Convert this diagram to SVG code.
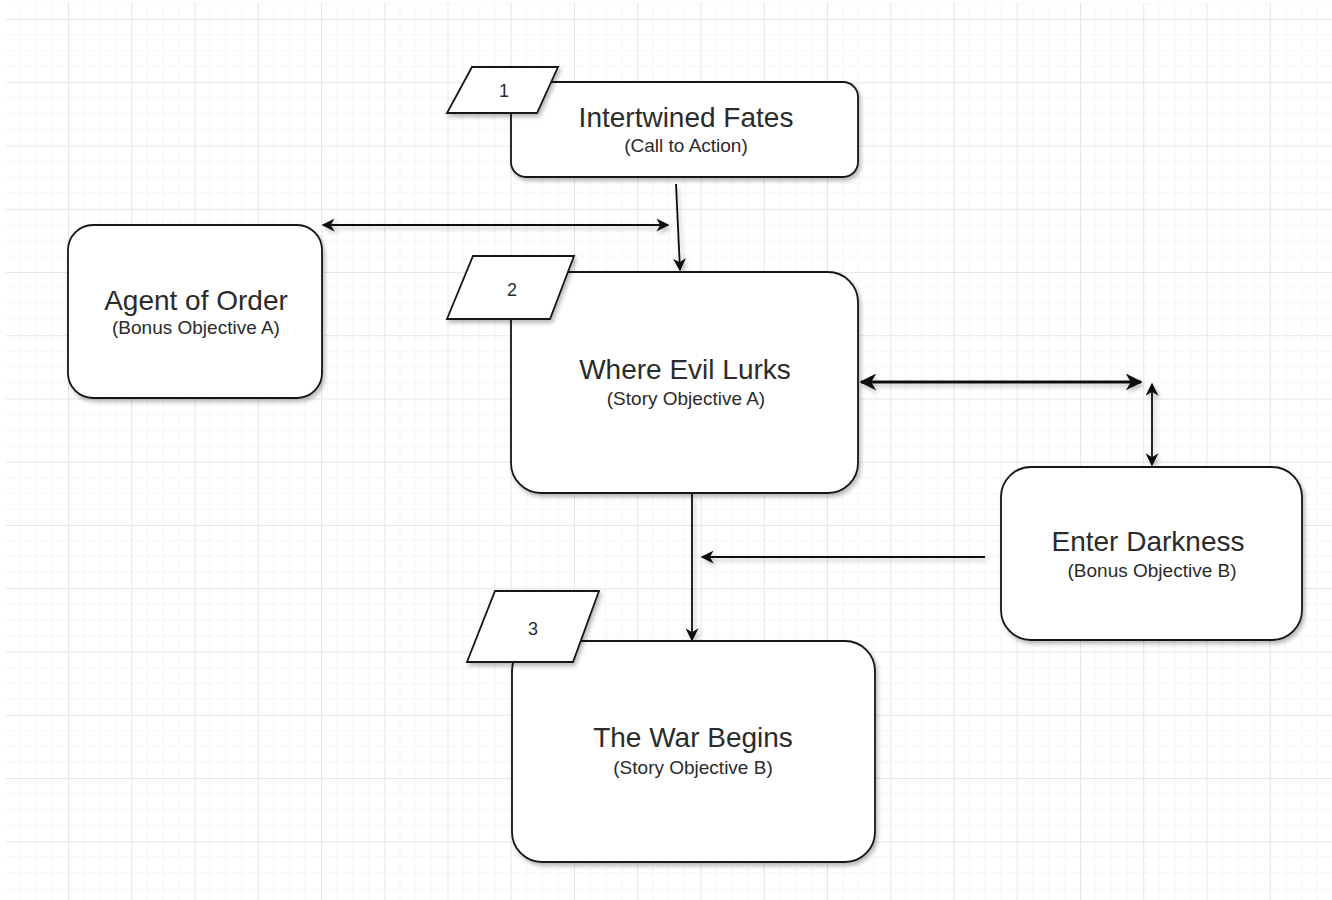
<svg xmlns="http://www.w3.org/2000/svg" width="1332" height="900" viewBox="0 0 1332 900">
  <defs>
    <pattern id="grid" patternUnits="userSpaceOnUse" x="68" y="19" width="63.25" height="63.25">
      <path d="M15.81 0V63.25M31.62 0V63.25M47.44 0V63.25M0 15.81H63.25M0 31.62H63.25M0 47.44H63.25" stroke="#f6f6f6" stroke-width="1" fill="none"/>
      <path d="M0.5 0V63.25M0 0.5H63.25" stroke="#e6e6e6" stroke-width="1" fill="none"/>
    </pattern>
    <filter id="shadow" x="-10%" y="-10%" width="125%" height="130%">
      <feDropShadow dx="2" dy="3" stdDeviation="2" flood-color="#000" flood-opacity="0.28"/>
    </filter>
    <filter id="lineShadow" filterUnits="userSpaceOnUse" x="0" y="0" width="1332" height="900">
      <feDropShadow dx="2" dy="3" stdDeviation="2" flood-color="#000" flood-opacity="0.25"/>
    </filter>
    <marker id="arrow" viewBox="0 0 10 10" refX="9" refY="5" markerWidth="13" markerHeight="13" markerUnits="userSpaceOnUse" orient="auto-start-reverse">
      <path d="M0,0 L10,5 L0,10 L3,5 Z" fill="#111"/>
    </marker>
    <marker id="arrowL" viewBox="0 0 10 10" refX="9" refY="5" markerWidth="17" markerHeight="17" markerUnits="userSpaceOnUse" orient="auto-start-reverse">
      <path d="M0,0 L10,5 L0,10 L3,5 Z" fill="#111"/>
    </marker>
  </defs>
  <style>
    .box { fill: #fff; stroke: #151515; stroke-width: 1.8; filter: url(#shadow); }
    .tag { fill: #fff; stroke: #151515; stroke-width: 1.8; filter: url(#shadow); }
    .title { font-family: "Liberation Sans", Arial, sans-serif; font-size: 28px; fill: #2b2b2b; text-anchor: middle; }
    .sub { font-family: "Liberation Sans", Arial, sans-serif; font-size: 19px; fill: #2b2b2b; text-anchor: middle; }
    .num { font-family: "Liberation Sans", Arial, sans-serif; font-size: 18px; fill: #2b2b2b; text-anchor: middle; }
    .conn { fill: none; stroke: #111; stroke-width: 1.8; }
    .thick { fill: none; stroke: #111; stroke-width: 3.2; }
  </style>

  <rect x="0" y="0" width="1332" height="900" fill="#fff"/>
  <rect x="6" y="3" width="1326" height="897" fill="url(#grid)"/>

  <g id="connectors" filter="url(#lineShadow)">
    <line class="conn" x1="676" y1="184" x2="680" y2="270" marker-end="url(#arrow)"/>
    <line class="conn" x1="323" y1="225" x2="668" y2="225" marker-start="url(#arrow)" marker-end="url(#arrow)"/>
    <line class="thick" x1="861" y1="382" x2="1141" y2="382" marker-start="url(#arrowL)" marker-end="url(#arrowL)"/>
    <line class="conn" x1="1152" y1="384" x2="1152" y2="465" marker-start="url(#arrow)" marker-end="url(#arrow)"/>
    <line class="conn" x1="985" y1="557" x2="702" y2="557" marker-end="url(#arrow)"/>
    <line class="conn" x1="692" y1="494" x2="692" y2="640" marker-end="url(#arrow)"/>
  </g>

  <g id="node-intertwined-fates">
    <rect class="box" x="511" y="82" width="347" height="95" rx="15" ry="15"/>
    <text class="title" x="686" y="127">Intertwined Fates</text>
    <text class="sub" x="686" y="152">(Call to Action)</text>
  </g>
  <g id="tag-1">
    <polygon class="tag" points="472,67 558,67 537,113 447,113"/>
    <text class="num" x="504" y="97">1</text>
  </g>

  <g id="node-agent-of-order">
    <rect class="box" x="68" y="225" width="254" height="173" rx="25" ry="25"/>
    <text class="title" x="196" y="310">Agent of Order</text>
    <text class="sub" x="196" y="334">(Bonus Objective A)</text>
  </g>

  <g id="node-where-evil-lurks">
    <rect class="box" x="511" y="272" width="347" height="221" rx="30" ry="30"/>
    <text class="title" x="685" y="379">Where Evil Lurks</text>
    <text class="sub" x="686" y="405">(Story Objective A)</text>
  </g>
  <g id="tag-2">
    <polygon class="tag" points="473,256 574,256 550,319 447,319"/>
    <text class="num" x="512" y="296">2</text>
  </g>

  <g id="node-enter-darkness">
    <rect class="box" x="1001" y="467" width="301" height="173" rx="30" ry="30"/>
    <text class="title" x="1148" y="551">Enter Darkness</text>
    <text class="sub" x="1152" y="577">(Bonus Objective B)</text>
  </g>

  <g id="node-war-begins">
    <rect class="box" x="512" y="641" width="363" height="221" rx="30" ry="30"/>
    <text class="title" x="693" y="747">The War Begins</text>
    <text class="sub" x="693" y="774">(Story Objective B)</text>
  </g>
  <g id="tag-3">
    <polygon class="tag" points="495,591 599,591 573,662 467,662"/>
    <text class="num" x="533" y="635">3</text>
  </g>
</svg>
